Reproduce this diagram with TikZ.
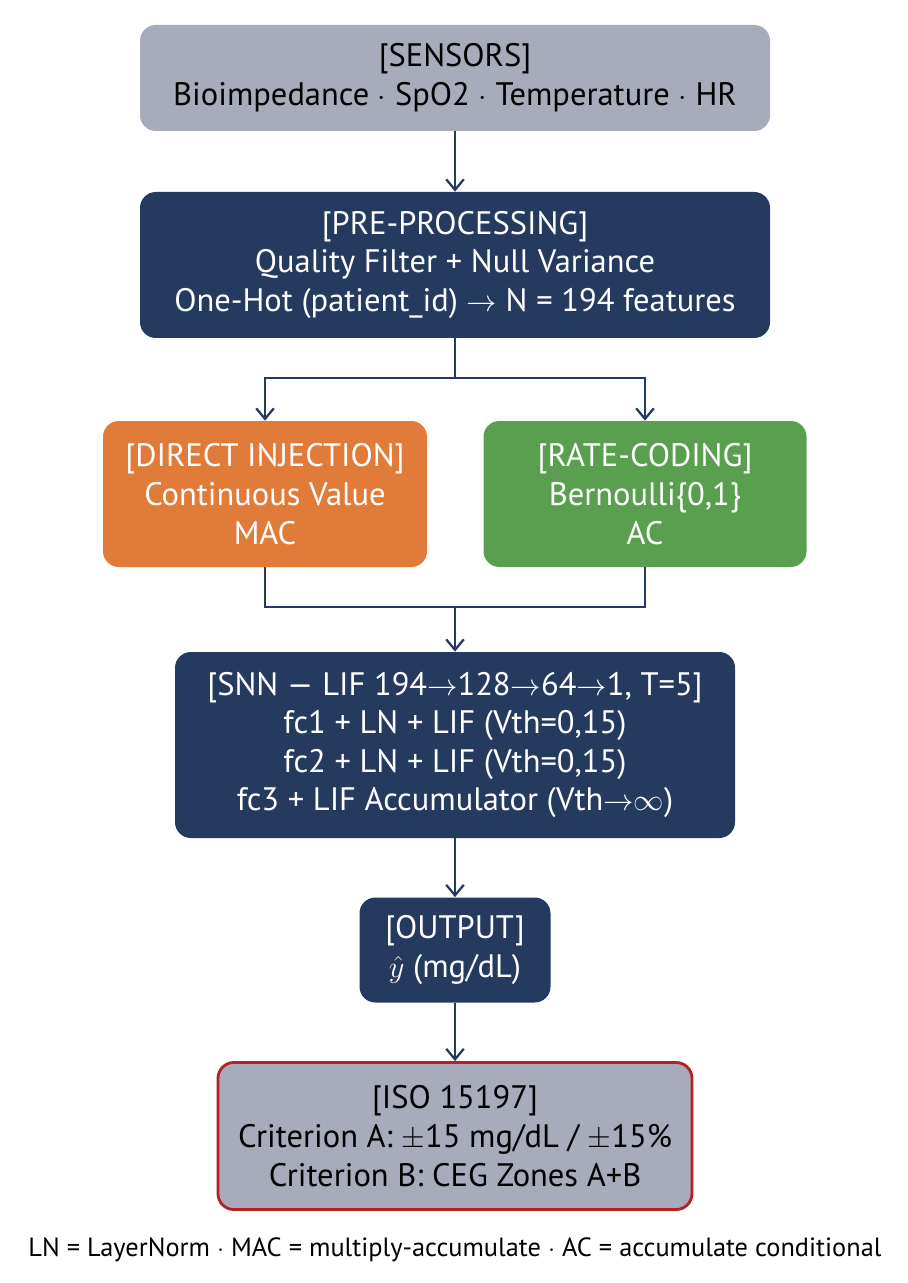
\documentclass[tikz,border=0pt]{standalone}
\usepackage{fontspec}
\setmainfont{PT Sans}
\usetikzlibrary{arrows.meta,positioning}
\definecolor{navy}{HTML}{243A5E}
\definecolor{stone}{HTML}{A8ABB9}
\definecolor{orng}{HTML}{E07B39}
\definecolor{grn}{HTML}{5A9E4F}
\definecolor{isored}{HTML}{B52025}
\newcommand{\ra}{$\mathord{\rightarrow}$}
\tikzset{
    box/.style={rounded corners=9pt, align=center, inner sep=0pt,
        font=\fontsize{18.5}{22}\selectfont},
    darkbox/.style={box, fill=navy, text=white},
    flow/.style={draw=navy, line width=1.3pt, -{Straight Barb[length=6pt,width=10pt]}},
    link/.style={draw=navy, line width=1.3pt}
}
\begin{document}
\begin{tikzpicture}[x=0.02cm,y=-0.02cm]
    \useasboundingbox (0,0) rectangle (908,1283);
    % blocks
    \node[box, fill=stone, text=black, minimum width=630*0.02cm, minimum height=106*0.02cm] (sensors) at (455,78)
        {[SENSORS]\\Bioimpedance $\cdot$ SpO2 $\cdot$ Temperature $\cdot$ HR};
    \node[darkbox, minimum width=630*0.02cm, minimum height=146*0.02cm] (prep) at (455,265)
        {[PRE-PROCESSING]\\Quality Filter + Null Variance\\One-Hot (patient\_id) \ra{} N = 194 features};
    \node[box, fill=orng, text=white, minimum width=324*0.02cm, minimum height=146*0.02cm] (direct) at (265,494)
        {[DIRECT INJECTION]\\Continuous Value\\MAC};
    \node[box, fill=grn, text=white, minimum width=323*0.02cm, minimum height=146*0.02cm] (rate) at (645,494)
        {[RATE-CODING]\\Bernoulli\{0,1\}\\AC};
    \node[darkbox, minimum width=560*0.02cm, minimum height=186*0.02cm] (snn) at (455,745)
        {[SNN — LIF 194\ra128\ra64\ra1, T=5]\\fc1 + LN + LIF (Vth=0,15)\\fc2 + LN + LIF (Vth=0,15)\\fc3 + LIF Accumulator (Vth$\mathord{\rightarrow}\infty$)};
    \node[darkbox, minimum width=191*0.02cm, minimum height=105*0.02cm] (out) at (455,950)
        {[OUTPUT]\\$\hat{y}$ (mg/dL)};
    \node[box, fill=stone, text=black, draw=isored, line width=1.6pt, minimum width=474*0.02cm, minimum height=147*0.02cm] (iso) at (455,1136)
        {[ISO 15197]\\Criterion A: $\pm$15 mg/dL / $\pm$15\%\\Criterion B: CEG Zones A+B};
    \node[font=\fontsize{15}{19}\selectfont] (note) at (455,1250)
        {LN = LayerNorm $\cdot$ MAC = multiply-accumulate $\cdot$ AC = accumulate conditional};
    % connectors
    \coordinate (split) at (455,378);
    \coordinate (join) at (455,607);
    \draw[flow] (sensors) -- (prep);
    \draw[link] (prep) -- (split);
    \draw[flow] (split) -| (direct);
    \draw[flow] (split) -| (rate);
    \draw[link] (direct) |- (join);
    \draw[link] (rate) |- (join);
    \draw[flow] (join) -- (snn);
    \draw[flow] (snn) -- (out);
    \draw[flow] (out) -- (iso);
\end{tikzpicture}
\end{document}
